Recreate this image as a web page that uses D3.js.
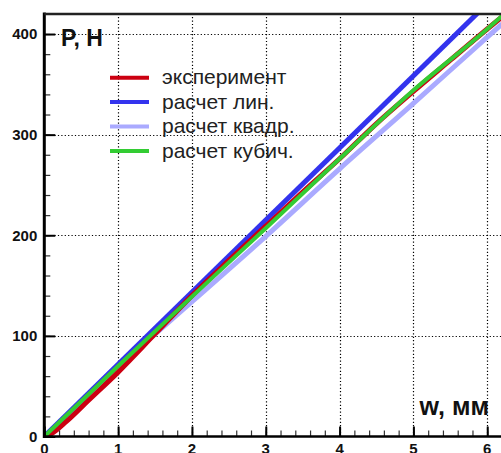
<!DOCTYPE html>
<html>
<head>
<meta charset="utf-8">
<script src="https://cdn.jsdelivr.net/npm/d3@7"></script>
<style>
  body { margin: 0; background: #fff; }
  svg { display: block; }
</style>
</head>
<body>
<svg id="chart" width="501" height="453"></svg>
<script>
// прогиб w (мм) -> нагрузка P (Н)
const expW   = [0, 0.1, 0.3, 0.6, 1, 1.5, 2, 2.5, 3, 3.5, 4, 4.5, 5, 5.5, 6, 6.2];
const expP   = [0, 3, 15, 36, 64, 102, 140, 175, 209, 243, 276, 311, 343, 374, 405, 417];
const linW   = [0, 6.2];
const linP   = [0, 444.5];
const quadW  = [0, 1, 2, 3, 4, 5, 6, 6.2];
const quadP  = [0, 69, 134, 199, 266, 331, 397, 410];
const cubW   = [0, 1, 2, 3, 4, 5, 6, 6.2];
const cubP   = [0, 70, 139, 207, 276, 344, 405, 418];

const legendLabels = ["эксперимент", "расчет лин.", "расчет квадр.", "расчет кубич."];
const xTicks = [0, 1, 2, 3, 4, 5, 6];
const yTicks = [0, 100, 200, 300, 400];

const series = [
  { name: legendLabels[2], w: quadW, p: quadP, color: "#aaaaff", width: 5 },
  { name: legendLabels[1], w: linW,  p: linP,  color: "#3333ee", width: 5 },
  { name: legendLabels[0], w: expW,  p: expP,  color: "#cc0011", width: 5 },
  { name: legendLabels[3], w: cubW,  p: cubP,  color: "#33cc33", width: 4 }
];
const legendOrder = [2, 1, 0, 3];

const svg = d3.select("#chart");
const font = "'Liberation Sans', Arial, sans-serif";

const x = d3.scaleLinear().domain([0, 6.2]).range([44.3, 502]);
const y = d3.scaleLinear().domain([0, 420]).range([436.5, 13.9]);

// gridlines
const grid = svg.append("g").attr("stroke", "#000").attr("stroke-width", 1.2)
  .attr("stroke-dasharray", "1.2,2.2");
grid.selectAll(".gx").data(xTicks.filter(d => d > 0)).enter().append("line")
  .attr("x1", d => Math.round(x(d)) + 0.5).attr("x2", d => Math.round(x(d)) + 0.5)
  .attr("y1", y(0)).attr("y2", y(420));
grid.selectAll(".gy").data(yTicks.filter(d => d > 0)).enter().append("line")
  .attr("x1", x(0)).attr("x2", 501)
  .attr("y1", d => Math.round(y(d)) + 0.5).attr("y2", d => Math.round(y(d)) + 0.5);

// curves
svg.append("clipPath").attr("id", "clip").append("rect")
  .attr("x", x(0)).attr("y", y(420)).attr("width", 501 - x(0)).attr("height", y(0) - y(420));

const line = d3.line().x(d => x(d[0])).y(d => y(d[1])).curve(d3.curveMonotoneX);
const curves = svg.append("g").attr("clip-path", "url(#clip)");
series.forEach(s => {
  curves.append("path")
    .datum(s.w.map((w, i) => [w, s.p[i]]))
    .attr("d", line)
    .attr("fill", "none")
    .attr("stroke", s.color)
    .attr("stroke-width", s.width);
});

// axes
const xAxis = svg.append("g").attr("transform", `translate(0,${y(0)})`);
xAxis.call(d3.axisTop(x).tickValues(d3.range(0, 6.21, 0.2)).tickSize(6).tickFormat(""))
  .call(g => g.selectAll("line").attr("stroke", "#333").attr("stroke-width", 1.2))
  .call(g => g.select(".domain").remove());
xAxis.append("g").call(d3.axisTop(x).tickValues(xTicks).tickSize(10).tickFormat(""))
  .call(g => g.selectAll("line").attr("stroke", "#000").attr("stroke-width", 2))
  .call(g => g.select(".domain").remove());
xAxis.selectAll(".xl").data(xTicks).enter().append("text")
  .attr("x", d => x(d)).attr("y", 17.5)
  .attr("text-anchor", "middle")
  .attr("font-family", font).attr("font-weight", "bold").attr("font-size", 15)
  .attr("fill", "#111").text(d => d);

const yAxis = svg.append("g").attr("transform", `translate(${x(0)},0)`);
yAxis.call(d3.axisRight(y).tickValues(d3.range(0, 421, 20)).tickSize(6).tickFormat(""))
  .call(g => g.selectAll("line").attr("stroke", "#333").attr("stroke-width", 1.2))
  .call(g => g.select(".domain").remove());
yAxis.append("g").call(d3.axisRight(y).tickValues(yTicks).tickSize(11).tickFormat(""))
  .call(g => g.selectAll("line").attr("stroke", "#000").attr("stroke-width", 2))
  .call(g => g.select(".domain").remove());
yAxis.selectAll(".yl").data(yTicks).enter().append("text")
  .attr("x", -7).attr("y", d => y(d)).attr("dy", "0.36em")
  .attr("text-anchor", "end")
  .attr("font-family", font).attr("font-weight", "bold").attr("font-size", 15)
  .attr("fill", "#111").text(d => d);

// frame lines
svg.append("line").attr("x1", x(0)).attr("x2", x(0)).attr("y1", y(420) - 1.5).attr("y2", y(0) + 1.5)
  .attr("stroke", "#000").attr("stroke-width", 3);
svg.append("line").attr("x1", x(0)).attr("x2", 501).attr("y1", y(0)).attr("y2", y(0))
  .attr("stroke", "#000").attr("stroke-width", 2.5);
svg.append("line").attr("x1", x(0)).attr("x2", 501).attr("y1", y(420)).attr("y2", y(420))
  .attr("stroke", "#222").attr("stroke-width", 2.5);

// axis titles
svg.append("text").attr("x", 61).attr("y", 45.5)
  .attr("font-family", font).attr("font-weight", "bold").attr("font-size", 23)
  .attr("fill", "#111").text("P, Н");
svg.append("text").attr("x", 489).attr("y", 415).attr("text-anchor", "end")
  .attr("font-family", font).attr("font-weight", "bold").attr("font-size", 25)
  .attr("fill", "#111").text("w, мм");

// legend
const legend = svg.append("g").attr("transform", "translate(110,77.7)");
const items = legend.selectAll("g").data(legendOrder.map(i => series[i])).enter().append("g")
  .attr("transform", (d, i) => `translate(0,${i * 24.4})`);
items.append("line").attr("x1", 0).attr("x2", 39).attr("y1", 0).attr("y2", 0)
  .attr("stroke", d => d.color).attr("stroke-width", 4);
items.append("text").attr("x", 52).attr("y", 0).attr("dy", "0.32em")
  .attr("font-family", font).attr("font-size", 21).attr("fill", "#222")
  .text(d => d.name);
</script>
</body>
</html>
